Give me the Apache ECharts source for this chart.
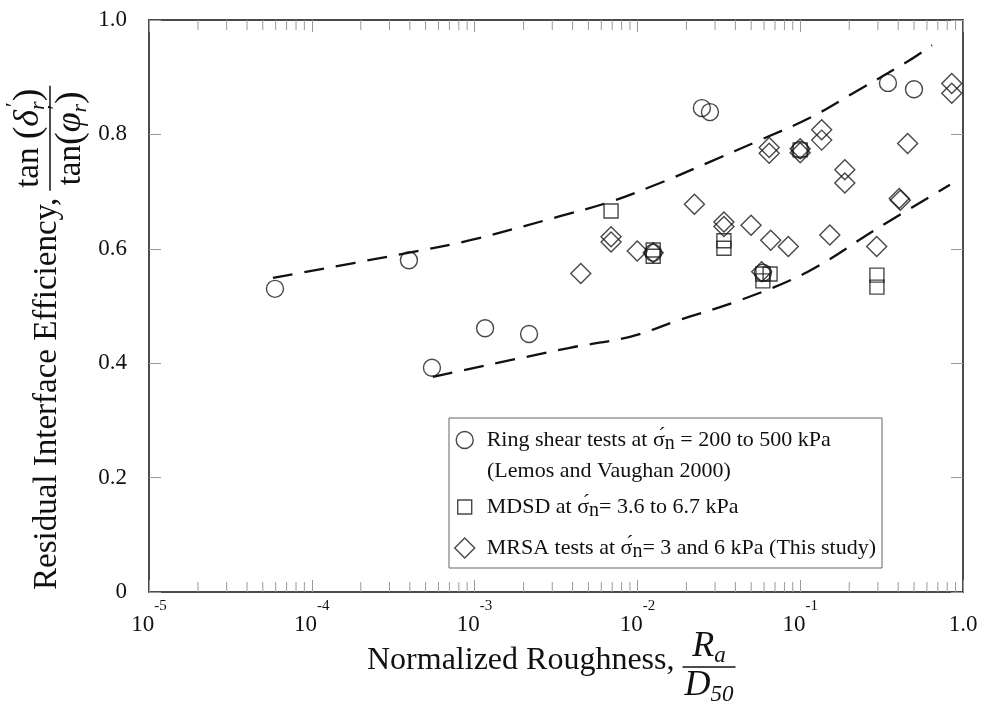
<!DOCTYPE html>
<html>
<head>
<meta charset="utf-8">
<script src="https://cdn.jsdelivr.net/npm/echarts@6/dist/echarts.min.js"></script>
<style>
  html, body { margin: 0; padding: 0; background: #fff; }
  #chart { width: 986px; height: 709px; }
</style>
</head>
<body>
<div id="chart"></div>
<script>
// Ring shear tests at 200 to 500 kPa (Lemos and Vaughan 2000)
const ringShearRa  = [5.94e-5, 3.95e-4, 5.47e-4, 1.16e-3, 2.16e-3, 0.0125, 0.0249, 0.0279, 0.059, 0.1, 0.346, 0.5];
const ringShearEff = [0.530, 0.580, 0.392, 0.461, 0.451, 0.593, 0.846, 0.839, 0.558, 0.773, 0.890, 0.879];

// MDSD at 3.6 to 6.7 kPa
const mdsdRa  = [6.89e-3, 0.0125, 0.0125, 0.034, 0.034, 0.059, 0.059, 0.0653, 0.1, 0.296, 0.296];
const mdsdEff = [0.666, 0.598, 0.587, 0.614, 0.601, 0.556, 0.544, 0.556, 0.773, 0.554, 0.533];

// MRSA tests at 3 and 6 kPa (this study)
const mrsaRa  = [4.49e-3, 6.89e-3, 6.89e-3, 0.00998, 0.0125, 0.0224, 0.034, 0.034, 0.0499, 0.058,
                 0.0645, 0.0645, 0.0659, 0.0845, 0.1, 0.1, 0.1355, 0.1355, 0.152, 0.188,
                 0.188, 0.295, 0.406, 0.412, 0.457, 0.853, 0.853];
const mrsaEff = [0.557, 0.621, 0.612, 0.596, 0.593, 0.678, 0.647, 0.639, 0.641, 0.560,
                 0.777, 0.767, 0.615, 0.604, 0.775, 0.768, 0.808, 0.790, 0.624, 0.738,
                 0.715, 0.604, 0.688, 0.685, 0.784, 0.889, 0.872];

// Dashed bounding curves
const upperRa  = [5.77e-5, 3.9e-4, 9.4e-4, 3.35e-3, 6.79e-3, 0.01377, 0.0279, 0.0566, 0.1148, 0.211, 0.472, 0.645];
const upperEff = [0.549, 0.593, 0.615, 0.657, 0.682, 0.715, 0.752, 0.790, 0.829, 0.872, 0.930, 0.956];
const lowerRa  = [5.54e-4, 3.85e-3, 9.0e-3, 0.0183, 0.0427, 0.110, 0.296, 0.832];
const lowerEff = [0.376, 0.427, 0.446, 0.476, 0.510, 0.559, 0.635, 0.712];

// Axes
const xDecadeExponents = [-5, -4, -3, -2, -1];
const xMinorMultipliers = [2, 3, 4, 5, 6, 7, 8, 9];
const yTickLabels = ['0', '0.2', '0.4', '0.6', '0.8', '1.0'];

const FONT = "'Liberation Serif', 'Times New Roman', serif";
const INK = '#111';
const TICK = '#9a9a9a';

const zip = (xs, ys) => xs.map((x, i) => [x, ys[i]]);
const xMinorTicks = [];
xDecadeExponents.forEach(e => xMinorMultipliers.forEach(m => xMinorTicks.push([m * Math.pow(10, e), 0])));

// text measuring for the composed axis titles
const mctx = document.createElement('canvas').getContext('2d');
function textWidth(t, font) { mctx.font = font; return mctx.measureText(t).width; }
function runWidth(pieces) {
  return pieces.reduce((w, p) => w + (p.noAdvance ? 0 : textWidth(p.t, p.font)), 0);
}
function runElements(pieces, x0, y0) {
  let x = x0;
  return pieces.map(p => {
    const el = {
      type: 'text',
      style: { text: p.t, x: x + (p.dx || 0), y: y0 + (p.dy || 0), font: p.font, fill: INK,
               align: 'left', verticalAlign: 'middle' }
    };
    if (!p.noAdvance) x += textWidth(p.t, p.font);
    return el;
  });
}
// label text followed by a stacked fraction; local x runs along the reading direction
function titleWithFraction(label, labelFont, num, den, opts) {
  const lw = textWidth(label, labelFont);
  const nw = runWidth(num), dw = runWidth(den);
  const bar = Math.max(nw, dw) + opts.barPad;
  const fx = lw + opts.gap;
  const children = [
    { type: 'text', style: { text: label, x: 0, y: opts.labelDy, font: labelFont, fill: INK,
                             align: 'left', verticalAlign: 'middle' } },
    { type: 'line', shape: { x1: fx, y1: 0, x2: fx + bar, y2: 0 }, style: { stroke: INK, lineWidth: 1.5 } }
  ];
  return children
    .concat(runElements(num, fx + (bar - nw) / 2, -opts.numOff))
    .concat(runElements(den, fx + (bar - dw) / 2, opts.denOff));
}

// y title: tan(delta'_r) / tan(phi'_r)
const fyLabel = '33px ' + FONT;
const fyTan = '33px ' + FONT;
const fyParen = '38px ' + FONT;
const fyGreek = 'italic 36px ' + FONT;
const fySub = 'italic 22px ' + FONT;
const fyPrime = '22px ' + FONT;
const yTitle = titleWithFraction(
  'Residual Interface Efficiency,', fyLabel,
  [{ t: 'tan ', font: fyTan }, { t: '(', font: fyParen }, { t: '\u03B4', font: fyGreek },
   { t: '\u2032', font: fyPrime, dy: -15, dx: 3, noAdvance: true },
   { t: 'r', font: fySub, dy: 9 }, { t: ')', font: fyParen }],
  [{ t: 'tan', font: fyTan }, { t: '(', font: fyParen }, { t: '\u03C6', font: fyGreek },
   { t: '\u2032', font: fyPrime, dy: -15, dx: 3, noAdvance: true },
   { t: 'r', font: fySub, dy: 9 }, { t: ')', font: fyParen }],
  { gap: 7, barPad: 6, numOff: 21, denOff: 21, labelDy: -3 }
);

// x title: R_a / D_50
const fxLabel = '32px ' + FONT;
const fxIt = 'italic 36px ' + FONT;
const fxSub = 'italic 23px ' + FONT;
const xTitle = titleWithFraction(
  'Normalized Roughness,', fxLabel,
  [{ t: 'R', font: fxIt }, { t: 'a', font: fxSub, dy: 9 }],
  [{ t: 'D', font: fxIt }, { t: '50', font: fxSub, dy: 9 }],
  { gap: 8, barPad: 4, numOff: 20, denOff: 19, labelDy: -6 }
);

function xLabel(v) {
  const e = Math.round(Math.log10(v));
  if (e === 0) return '{one|1.0}';
  return '{b|10}{s|' + e + '}';
}

const axisLine = { show: true, onZero: false, lineStyle: { color: INK, width: 1.5 } };
const axisTick = { show: true, inside: true, length: 12, lineStyle: { color: TICK, width: 1 } };

const markerStyle = { color: 'rgba(0,0,0,0)', borderColor: '#1a1a1a', borderWidth: 1.4 };

const LF = 22;
const legendText = {
  t: { fontSize: LF, fontFamily: FONT, color: INK, lineHeight: 24 },
  g: { fontSize: LF, fontFamily: FONT, color: INK, lineHeight: 24 },
  n: { fontSize: 20, fontFamily: FONT, color: INK, lineHeight: 20, padding: [8, 0, 0, 0] }
};
const legendLabels = {
  'Ring shear tests': '{t|Ring shear tests at }{g|\u03C3\u0301}{n|n}{t| = 200 to 500 kPa}',
  'MDSD': '{t|MDSD at }{g|\u03C3\u0301}{n|n}{t|= 3.6 to 6.7 kPa}',
  'MRSA tests': '{t|MRSA tests at }{g|\u03C3\u0301}{n|n}{t|= 3 and 6 kPa (This study)}'
};
function legendFor(name, icon, size, centerY) {
  return {
    data: [{ name: name, icon: icon }],
    left: 464 - size / 2,
    top: centerY - 14,
    padding: 0,
    itemWidth: size,
    itemHeight: size,
    itemStyle: { color: 'rgba(0,0,0,0)', borderColor: '#1a1a1a', borderWidth: 1.4 },
    formatter: n => legendLabels[n],
    textStyle: { fontFamily: FONT, fontSize: LF, color: INK, padding: [0, 0, 0, 17 - size / 2], rich: legendText },
    selectedMode: false,
    z: 6
  };
}

const chart = echarts.init(document.getElementById('chart'), null, { renderer: 'canvas' });
chart.setOption({
  animation: false,
  backgroundColor: '#fff',
  textStyle: { fontFamily: FONT },
  grid: { left: 149, right: 23, top: 20, bottom: 117, containLabel: false, outerBoundsMode: 'none' },
  xAxis: [
    {
      type: 'log', logBase: 10, min: 1e-5, max: 1, position: 'bottom',
      axisLine: axisLine, axisTick: axisTick, splitLine: { show: false }, minorTick: { show: false },
      axisLabel: {
        margin: 21, formatter: xLabel, color: INK,
        rich: {
          b: { fontSize: 23, fontFamily: FONT, color: INK, lineHeight: 24 },
          s: { fontSize: 15, fontFamily: FONT, color: INK, lineHeight: 16, padding: [0, 0, 38, 0] },
          one: { fontSize: 23, fontFamily: FONT, color: INK, lineHeight: 24, padding: [15, 0, 15, 0] }
        }
      }
    },
    {
      type: 'log', logBase: 10, min: 1e-5, max: 1, position: 'top',
      axisLine: axisLine, axisTick: axisTick, splitLine: { show: false }, axisLabel: { show: false }
    }
  ],
  yAxis: [
    {
      type: 'value', min: 0, max: 1, interval: 0.2, position: 'left',
      axisLine: axisLine, axisTick: axisTick, splitLine: { show: false },
      axisLabel: {
        margin: 22, fontSize: 23, fontFamily: FONT, color: INK,
        formatter: v => yTickLabels[Math.round(v / 0.2)]
      }
    },
    {
      type: 'value', min: 0, max: 1, interval: 0.2, position: 'right',
      axisLine: axisLine, axisTick: axisTick, splitLine: { show: false }, axisLabel: { show: false }
    }
  ],
  legend: [
    legendFor('Ring shear tests', 'circle', 17, 440),
    legendFor('MDSD', 'rect', 14, 507),
    legendFor('MRSA tests', 'diamond', 20, 548)
  ],
  graphic: [
    { type: 'rect', shape: { x: 449, y: 418, width: 433, height: 150 },
      style: { fill: '#fff', stroke: '#666', lineWidth: 1 }, z: 0, silent: true },
    { type: 'text', style: { text: '(Lemos and Vaughan 2000)', x: 487, y: 471, font: LF + 'px ' + FONT,
      fill: INK, align: 'left', verticalAlign: 'middle' }, z: 6, silent: true },
    { type: 'group', x: 50, y: 590, rotation: Math.PI / 2, children: yTitle, silent: true },
    { type: 'group', x: 367, y: 667, children: xTitle, silent: true }
  ],
  series: [
    {
      type: 'custom', name: 'minor ticks', silent: true, clip: false, z: 1,
      data: xMinorTicks,
      renderItem: (params, api) => {
        const v = api.value(0);
        const [x, yb] = api.coord([v, 0]);
        const yt = api.coord([v, 1])[1];
        const st = { stroke: TICK, lineWidth: 1 };
        return { type: 'group', children: [
          { type: 'line', shape: { x1: x, y1: yb, x2: x, y2: yb - 10 }, style: st },
          { type: 'line', shape: { x1: x, y1: yt, x2: x, y2: yt + 10 }, style: st }
        ] };
      }
    },
    {
      type: 'line', name: 'upper bound', data: zip(upperRa, upperEff), smooth: 0.35,
      symbol: 'none', silent: true, z: 2,
      lineStyle: { color: INK, width: 2.3, type: [20, 12] }
    },
    {
      type: 'line', name: 'lower bound', data: zip(lowerRa, lowerEff), smooth: 0.35,
      symbol: 'none', silent: true, z: 2,
      lineStyle: { color: INK, width: 2.3, type: [20, 12] }
    },
    {
      type: 'scatter', name: 'Ring shear tests', symbol: 'circle', symbolSize: 17,
      data: zip(ringShearRa, ringShearEff), itemStyle: markerStyle, z: 3, emphasis: { disabled: true }
    },
    {
      type: 'scatter', name: 'MDSD', symbol: 'rect', symbolSize: 14,
      data: zip(mdsdRa, mdsdEff), itemStyle: markerStyle, z: 3, emphasis: { disabled: true }
    },
    {
      type: 'scatter', name: 'MRSA tests', symbol: 'diamond', symbolSize: 20,
      data: zip(mrsaRa, mrsaEff), itemStyle: markerStyle, z: 3, emphasis: { disabled: true }
    }
  ]
});
</script>
</body>
</html>
